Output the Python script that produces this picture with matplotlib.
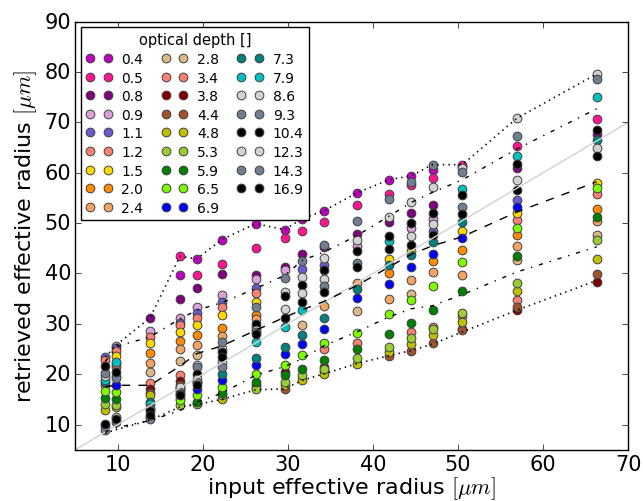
import numpy as np
import matplotlib
matplotlib.use('Agg')
import matplotlib.pyplot as plt

plt.style.use('classic')

# input effective radius of each column [um]
r_input = [8.53, 9.82, 13.8, 17.3, 19.3, 22.2, 26.2, 29.6, 31.7, 34.3,
           38.1, 41.9, 44.5, 47.0, 50.5, 56.9, 66.3]

# optical depths and their colours (legend order)
tau = ['0.4', '0.5', '0.8', '0.9', '1.1', '1.2', '1.5', '2.0', '2.4',
       '2.8', '3.4', '3.8', '4.4', '4.8', '5.3', '5.9', '6.5', '6.9',
       '7.3', '7.9', '8.6', '9.3', '10.4', '12.3', '14.3', '16.9']
tau_col = ['m', 'deeppink', 'purple', 'plum', 'slateblue', 'salmon', 'gold',
           'darkorange', 'sandybrown', 'burlywood', 'salmon', 'maroon',
           'sienna', 'y', 'yellowgreen', 'g', 'lawngreen', 'b', 'teal', 'c',
           'lightgray', 'slategray', 'k', 'lightgray', 'slategray', 'k']

nan = np.nan
# retrieved radius per input column, one value per optical depth (tau order)
ret_c01 = [nan, nan, nan, nan, 23.4, 22.8, nan, nan, nan, nan, 17.8, nan, nan,
           12.9, 14.0, 15.2, 16.6, nan, 18.4, 18.8, 19.6, 20.3, 21.6, 9.8, 8.9, 10.1]
ret_c02 = [nan, nan, nan, 25.6, 25.2, 24.6, 23.6, 21.4, nan, nan, 22.0, nan, nan,
           13.4, 13.9, 15.0, 16.4, 17.8, nan, 22.4, 19.6, 19.2, 20.5, 11.5, 10.6, 11.1]
ret_c03 = [nan, nan, 31.2, 28.5, nan, 27.4, 26.2, 24.2, 22.2, 20.4, 18.3, 17.0, 16.3,
           15.8, nan, nan, nan, nan, 14.5, 14.0, 13.3, 13.0, 12.8, 11.6, 11.1, 12.0]
ret_c04 = [39.7, 43.4, 35.0, 31.2, 30.2, 29.7, 28.4, 26.5, 25.1, 22.7, 19.9, 18.6, 17.8,
           17.2, 13.8, 15.2, 14.8, nan, 17.0, 16.8, 17.4, 16.5, 16.1, nan, nan, 15.8]
ret_c05 = [42.9, 39.7, 37.1, 33.3, 32.2, 31.1, 29.7, 27.7, 25.9, 23.9, nan, nan, nan,
           14.2, 14.0, 14.5, 15.8, 17.0, 18.4, nan, 21.9, 21.5, 20.1, 19.0, 18.5, 17.8]
ret_c06 = [46.7, 41.9, 39.9, 35.7, 34.4, 33.3, 31.7, 29.2, 27.6, nan, nan, nan, nan,
           15.1, 15.8, 16.3, 17.5, 18.8, 20.1, nan, 25.0, 26.3, 24.5, 22.5, 21.4, 23.4]
ret_c07 = [49.9, 45.0, 39.7, 38.9, 37.1, 36.1, 34.4, 31.7, 30.9, nan, nan, 17.8, nan,
           17.3, 17.1, 18.5, 20.1, 21.9, 23.2, 26.4, 29.3, 33.3, 30.0, 28.8, 28.4, 28.0]
ret_c08 = [48.7, 47.0, 41.3, 40.6, nan, nan, nan, nan, nan, nan, nan, 20.4, 17.1,
           17.8, 18.5, 19.8, 21.9, 24.1, 25.4, 29.4, 36.4, 39.1, 35.5, 33.0, nan, 31.1]
ret_c09 = [50.9, 48.4, 43.9, nan, 40.8, nan, nan, nan, nan, 29.8, nan, nan, nan,
           18.8, 19.8, 21.1, 23.9, 26.0, 27.8, 32.7, 39.3, 42.4, 37.8, 36.1, nan, 34.3]
ret_c10 = [52.5, 50.2, 45.2, nan, 41.7, nan, nan, nan, 33.6, nan, 25.1, 21.5, 20.6,
           20.1, 21.1, 22.9, 26.2, 29.0, 31.1, nan, 43.1, 45.7, 40.6, 38.9, 37.6, 36.3]
ret_c11 = [56.0, 53.6, 47.9, 45.4, nan, nan, nan, nan, 38.2, 32.5, 26.2, nan, nan,
           22.1, 23.3, 25.1, 28.2, 35.1, 37.0, nan, 46.6, 50.4, 44.4, nan, 42.1, 41.3]
ret_c12 = [58.6, 55.8, 50.2, nan, nan, nan, 42.9, 40.0, 35.0, nan, nan, nan, 23.7,
           24.4, 25.4, 28.0, 31.9, 38.0, 41.6, 46.5, 51.2, 54.8, 47.5, nan, nan, 44.8]
ret_c13 = [59.4, 57.5, 52.0, 49.0, nan, nan, 44.5, nan, 38.8, 36.0, 28.4, nan, 24.7,
           26.0, 27.2, 30.1, 34.8, 41.3, 43.7, nan, 54.2, 58.2, 50.0, 47.4, nan, 45.6]
ret_c14 = [60.5, 59.0, 53.5, 50.8, 48.5, nan, nan, 42.4, 40.3, nan, 29.4, nan, 26.2,
           27.7, 28.9, 32.7, 37.6, 43.9, 46.3, nan, 57.1, 61.6, 52.0, 49.9, nan, 47.7]
ret_c15 = [61.3, 61.6, nan, nan, nan, nan, 48.4, 44.6, 39.7, nan, 31.6, 29.0, 28.7,
           30.4, 32.2, 36.6, 42.3, 47.0, 50.3, 56.8, 60.9, 60.2, 55.6, nan, 53.2, 51.8]
ret_c16 = [nan, 65.4, 60.9, nan, 54.6, 50.7, 52.1, 47.7, 45.4, 42.6, 34.8, 32.7, 33.3,
           36.5, 38.2, 43.4, 49.0, 53.2, nan, 63.3, 70.8, 67.3, 61.8, 58.5, nan, 56.5]
ret_c17 = [nan, 70.7, 67.7, nan, nan, 55.7, 58.0, 52.7, 50.5, 47.7, nan, 38.3, 39.9,
           42.9, 46.7, 51.2, 56.9, nan, 66.4, 75.0, 79.6, 78.6, 68.4, 64.9, nan, 63.3]

# statistics lines per column
line_max = [23.4, 25.8, 31.2, 43.4, 42.9, 46.7, 49.9, 48.7, 50.9, 52.5,
            56.0, 58.6, 59.4, 61.6, 61.6, 70.8, 79.6]
line_up = [22.5, 25.5, 27.4, 31.0, 32.7, 34.2, 37.0, 39.6, 42.6, 44.3,
           47.5, 51.4, 54.1, 56.1, 58.6, 64.7, 72.7]
line_mid = [17.5, 17.8, 17.8, 21.6, 24.1, 25.6, 28.7, 31.3, 32.8, 34.5,
            37.6, 41.3, 43.8, 45.5, 47.3, 52.2, 58.2]
line_lo = [8.6, 9.4, 10.8, 12.8, 14.5, 16.2, 19.8, 21.5, 23.1, 25.7,
           28.4, 31.4, 33.0, 33.6, 35.8, 40.3, 45.3]
line_min = [8.3, 9.0, 10.9, 13.5, 14.0, 15.0, 16.9, 17.1, 18.8, 20.1,
            22.1, 23.7, 24.7, 26.0, 28.4, 32.7, 38.6]

ret = np.array([ret_c01, ret_c02, ret_c03, ret_c04, ret_c05, ret_c06, ret_c07,
                ret_c08, ret_c09, ret_c10, ret_c11, ret_c12, ret_c13, ret_c14,
                ret_c15, ret_c16, ret_c17]).T

fig = plt.figure(figsize=(6.43, 5.02), dpi=100, facecolor='white')
ax = fig.add_subplot(111)
fig.subplots_adjust(left=0.117, right=0.977, top=0.955, bottom=0.102)

for i in range(len(tau)):
    ax.plot(r_input, ret[i], 'o', color=tau_col[i], markersize=6.3,
            markeredgecolor='0.25', markeredgewidth=0.7, label=tau[i])

ax.plot([5, 70], [5, 70], '-', color='0.82', lw=1)
ax.plot(r_input, line_max, 'k:', lw=1.2)
ax.plot(r_input, line_up, 'k-.', lw=1)
ax.plot(r_input, line_mid, 'k--', lw=1)
ax.plot(r_input, line_lo, 'k-.', lw=1)
ax.plot(r_input, line_min, 'k:', lw=1.2)

ax.set_xlim(5, 70)
ax.set_ylim(5, 90)
ax.set_xticks([10, 20, 30, 40, 50, 60, 70])
ax.set_yticks([10, 20, 30, 40, 50, 60, 70, 80, 90])
ax.tick_params(labelsize=15, pad=3)
ax.set_xlabel(r'input effective radius $[\mu m]$', fontsize=16, labelpad=0)
ax.set_ylabel(r'retrieved effective radius $[\mu m]$', fontsize=16, labelpad=4)

leg = ax.legend(loc='upper left', ncol=3, numpoints=2, fontsize=10,
                title='optical depth []', handlelength=1.85,
                columnspacing=1.3, handletextpad=0.7, labelspacing=0.33,
                borderaxespad=0.38)
leg.get_title().set_fontsize(10.5)

fig.savefig('out.png', dpi=100, facecolor='white')
